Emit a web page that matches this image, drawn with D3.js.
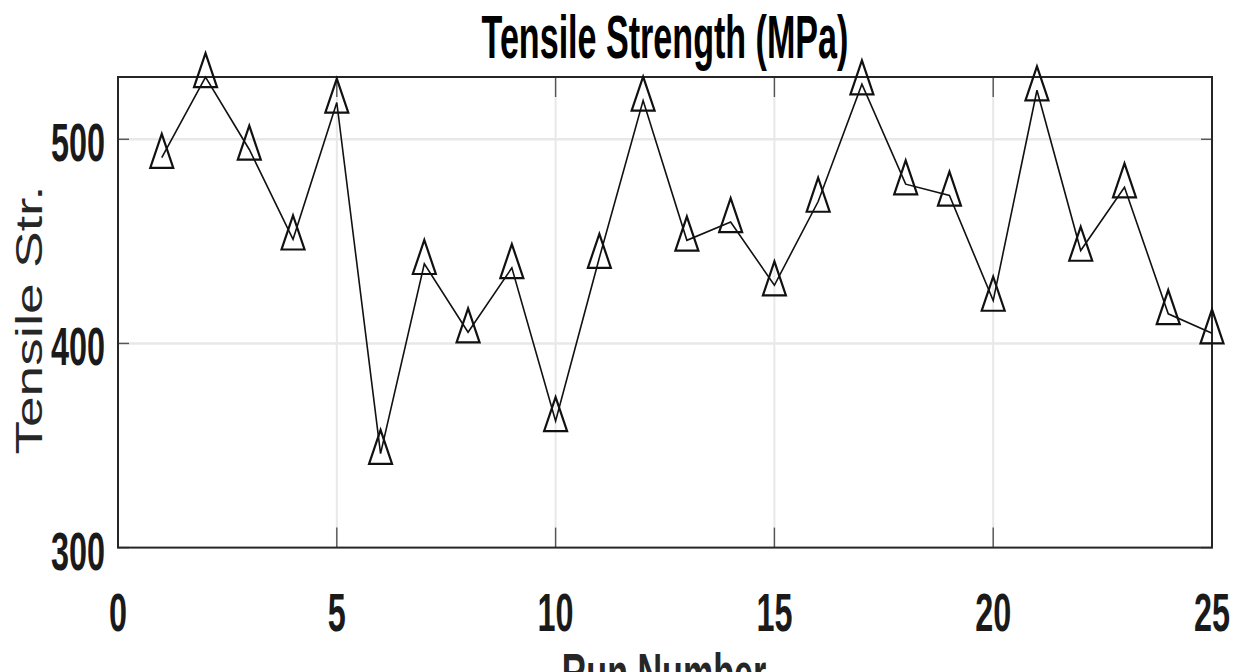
<!DOCTYPE html>
<html>
<head>
<meta charset="utf-8">
<script src="https://cdn.jsdelivr.net/npm/d3@7"></script>
<style>
  body { margin: 0; background: #fff; }
  svg { display: block; font-family: "Liberation Sans", Arial, sans-serif; }
</style>
</head>
<body>
<div id="chart"></div>
<script>
// data
var runs = [1, 2, 3, 4, 5, 6, 7, 8, 9, 10, 11, 12, 13, 14, 15, 16, 17, 18, 19, 20, 21, 22, 23, 24, 25];
var strength = [491, 530.5, 495, 451, 518, 346, 439, 405.5, 437, 362, 442, 519, 450.5,
                459.5, 428.5, 469.5, 527, 478, 472.5, 421, 524, 445.5, 476.5, 414.5, 405];
var xTicks = [0, 5, 10, 15, 20, 25];
var yTicks = [300, 400, 500];

var width = 1238, height = 672;
// plot box (note: "top" is a reserved global in browsers)
var plotLeft = 118, plotRight = 1212, plotTop = 77, plotBottom = 547.6;
var squeeze = 0.6; // the picture is narrow horizontally

var svg = d3.select('#chart').append('svg')
  .attr('width', width)
  .attr('height', height);

var x = d3.scaleLinear().domain([0, 25]).range([plotLeft, plotRight]);
var y = d3.scaleLinear().domain([300, d3.max(strength)]).range([plotBottom, plotTop]);

// grid
svg.append('g').selectAll('line')
  .data(xTicks.filter(function(d) { return d > 0 && d < 25; }))
  .join('line')
  .attr('x1', function(d) { return x(d); })
  .attr('x2', function(d) { return x(d); })
  .attr('y1', plotTop).attr('y2', plotBottom)
  .attr('stroke', '#e8e8e8').attr('stroke-width', 2);

svg.append('g').selectAll('line')
  .data(yTicks.filter(function(d) { return d > 300; }))
  .join('line')
  .attr('x1', plotLeft).attr('x2', plotRight)
  .attr('y1', function(d) { return y(d); })
  .attr('y2', function(d) { return y(d); })
  .attr('stroke', '#e8e8e8').attr('stroke-width', 2.5);

// inner ticks, all four sides
var axisColor = '#262626';
var ticks = svg.append('g').attr('stroke', '#555').attr('stroke-width', 1.4);
xTicks.forEach(function(d) {
  ticks.append('line').attr('x1', x(d)).attr('x2', x(d)).attr('y1', plotBottom).attr('y2', plotBottom - 20);
  ticks.append('line').attr('x1', x(d)).attr('x2', x(d)).attr('y1', plotTop).attr('y2', plotTop + 20);
});
yTicks.forEach(function(d) {
  ticks.append('line').attr('x1', plotLeft).attr('x2', plotLeft + 11).attr('y1', y(d)).attr('y2', y(d));
  ticks.append('line').attr('x1', plotRight).attr('x2', plotRight - 11).attr('y1', y(d)).attr('y2', y(d));
});

// box
svg.append('rect')
  .attr('x', plotLeft).attr('y', plotTop)
  .attr('width', plotRight - plotLeft).attr('height', plotBottom - plotTop)
  .attr('fill', 'none').attr('stroke', axisColor).attr('stroke-width', 2);

// tick labels
svg.append('g').selectAll('text')
  .data(xTicks)
  .join('text')
  .attr('transform', function(d) { return 'translate(' + x(d) + ',631) scale(' + squeeze + ',1)'; })
  .attr('text-anchor', 'middle')
  .attr('font-size', 54).attr('font-weight', 'bold').attr('fill', '#1a1a1a')
  .text(function(d) { return d; });

svg.append('g').selectAll('text')
  .data(yTicks)
  .join('text')
  .attr('transform', function(d) { return 'translate(105,' + (y(d) + 22) + ') scale(' + squeeze + ',1)'; })
  .attr('text-anchor', 'end')
  .attr('font-size', 54).attr('font-weight', 'bold').attr('fill', '#1a1a1a')
  .text(function(d) { return d; });

// line and markers
var line = d3.line()
  .x(function(d, i) { return x(runs[i]); })
  .y(function(d) { return y(d); });

svg.append('path')
  .datum(strength)
  .attr('d', line)
  .attr('fill', 'none')
  .attr('stroke', '#111')
  .attr('stroke-width', 1.6);

var tri = {
  draw: function(ctx) {
    var w = 23, h = 34;
    ctx.moveTo(0, -0.7 * h);
    ctx.lineTo(w / 2, 0.3 * h);
    ctx.lineTo(-w / 2, 0.3 * h);
    ctx.closePath();
  }
};

svg.append('g').selectAll('path')
  .data(strength)
  .join('path')
  .attr('d', d3.symbol().type(tri))
  .attr('transform', function(d, i) { return 'translate(' + x(runs[i]) + ',' + y(d) + ')'; })
  .attr('fill', 'none')
  .attr('stroke', '#111')
  .attr('stroke-width', 2.2);

// titles
svg.append('text')
  .attr('transform', 'translate(' + ((plotLeft + plotRight) / 2) + ',58) scale(0.55,1)')
  .attr('text-anchor', 'middle')
  .attr('font-size', 62).attr('font-weight', 'bold').attr('fill', '#000')
  .text('Tensile Strength (MPa)');

svg.append('text')
  .attr('transform', 'translate(42,320) scale(0.68,1) rotate(-90)')
  .attr('text-anchor', 'middle')
  .attr('font-size', 55).attr('fill', '#262626')
  .text('Tensile Str.');

svg.append('text')
  .attr('transform', 'translate(' + ((plotLeft + plotRight) / 2 - 1) + ',692) scale(0.62,1)')
  .attr('text-anchor', 'middle')
  .attr('font-size', 55).attr('font-weight', 'bold').attr('fill', '#262626')
  .text('Run Number');
</script>
</body>
</html>
